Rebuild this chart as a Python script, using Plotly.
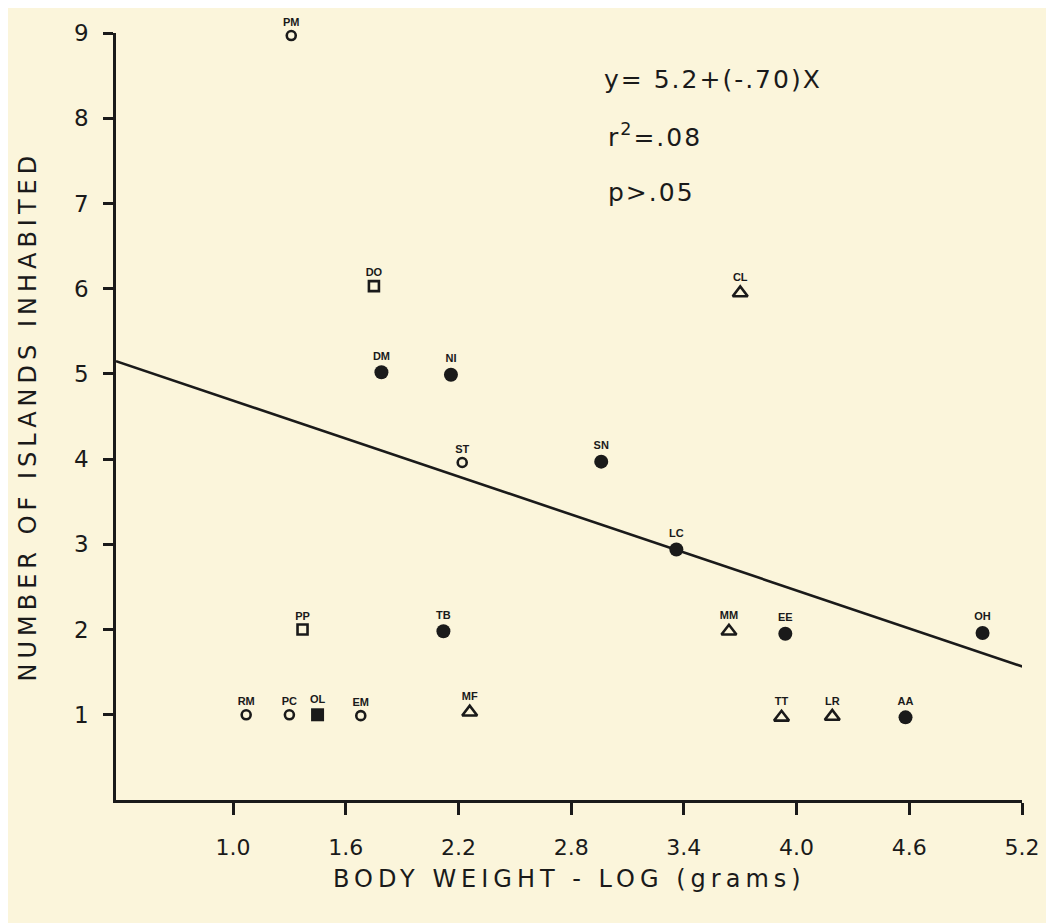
import plotly.graph_objects as go

# ---- data ----
species = ["PM", "DO", "DM", "NI", "ST", "SN", "LC", "CL",
           "PP", "TB", "MM", "EE", "OH",
           "RM", "PC", "OL", "EM", "MF", "TT", "LR", "AA"]
body_weight_log = [1.31, 1.75, 1.79, 2.16, 2.22, 2.96, 3.36, 3.70,
                   1.37, 2.12, 3.64, 3.94, 4.99,
                   1.07, 1.30, 1.45, 1.68, 2.26, 3.92, 4.19, 4.58]
islands = [8.97, 6.03, 5.02, 4.99, 3.96, 3.97, 2.94, 5.95,
           2.0, 1.98, 1.98, 1.95, 1.96,
           1.0, 1.0, 1.0, 0.99, 1.03, 0.97, 0.98, 0.97]
marker_kind = ["open_circle", "open_square", "filled_circle", "filled_circle",
               "open_circle", "filled_circle", "filled_circle", "open_triangle",
               "open_square", "filled_circle", "open_triangle", "filled_circle",
               "filled_circle",
               "open_circle", "open_circle", "filled_square", "open_circle",
               "open_triangle", "open_triangle", "open_triangle", "filled_circle"]

fit_x = [0.377, 5.21]
fit_y = [5.15, 1.56]

x_ticks = [1.0, 1.6, 2.2, 2.8, 3.4, 4.0, 4.6, 5.2]
x_tick_labels = ["1.0", "1.6", "2.2", "2.8", "3.4", "4.0", "4.6", "5.2"]
y_ticks = [1, 2, 3, 4, 5, 6, 7, 8, 9]

equation_lines = ["y= 5.2+(-.70)X", "r<sup>2</sup>=.08", "p>.05"]
x_title = "BODY WEIGHT - LOG (grams)"
y_title = "NUMBER OF ISLANDS INHABITED"

# ---- styling ----
BG = "#FBF5DB"
INK = "#1a1a1a"
FONT = "DejaVu Sans"


def spaced(txt, px):
    return '<span style="letter-spacing:%dpx">%s</span>' % (px, txt)


styles = {
    "open_circle": dict(symbol="circle-open", size=9, line=dict(width=2.6, color=INK)),
    "filled_circle": dict(symbol="circle", size=14, color=INK, line=dict(width=0)),
    "open_square": dict(symbol="square-open", size=10, line=dict(width=2.6, color=INK)),
    "filled_square": dict(symbol="square", size=13, color=INK, line=dict(width=0)),
    "open_triangle": dict(symbol="triangle-up-open", size=13, line=dict(width=2.6, color=INK)),
}

fig = go.Figure()

fig.add_trace(go.Scatter(x=fit_x, y=fit_y, mode="lines",
                         line=dict(color=INK, width=2.6),
                         hoverinfo="skip", showlegend=False))

for kind, st in styles.items():
    idx = [i for i, k in enumerate(marker_kind) if k == kind]
    mk = dict(st)
    if "color" not in mk:
        mk["color"] = INK
    fig.add_trace(go.Scatter(
        x=[body_weight_log[i] for i in idx],
        y=[islands[i] for i in idx],
        text=[species[i] for i in idx],
        mode="markers+text",
        textposition="top center",
        textfont=dict(family="Liberation Sans", size=11, color=INK, weight="bold"),
        marker=mk,
        showlegend=False,
        cliponaxis=False,
    ))

for i, line in enumerate(equation_lines):
    fig.add_annotation(x=0.536, y=1.0, xref="paper", yref="paper",
                       xanchor="left", yanchor="middle",
                       yshift=-46 - 56.5 * i, xshift=(0 if i == 0 else 4),
                       text=spaced(line, 2), showarrow=False,
                       font=dict(family=FONT, size=25, color=INK))

fig.add_annotation(x=0.5, y=-0.103, xref="paper", yref="paper",
                   xanchor="center", yanchor="middle", showarrow=False,
                   text=spaced(x_title, 5), font=dict(family=FONT, size=24, color=INK))
fig.add_annotation(x=-0.0982, y=0.50, xref="paper", yref="paper",
                   xanchor="center", yanchor="middle", showarrow=False,
                   textangle=-90,
                   text=spaced(y_title, 5), font=dict(family=FONT, size=24, color=INK))

fig.update_xaxes(range=[0.377, 5.2], tickvals=x_ticks, ticktext=x_tick_labels,
                 showline=True, linewidth=2.6, linecolor=INK,
                 ticks="outside", ticklen=12, tickwidth=2.6, tickcolor=INK,
                 showgrid=False, zeroline=False,
                 tickfont=dict(family=FONT, size=22, color=INK),
                 ticklabelstandoff=14)
fig.update_yaxes(range=[0, 9.0], tickvals=y_ticks,
                 showline=True, linewidth=2.6, linecolor=INK,
                 ticks="outside", ticklen=10, tickwidth=2.6, tickcolor=INK,
                 showgrid=False, zeroline=False,
                 tickfont=dict(family=FONT, size=23, color=INK),
                 ticklabelstandoff=10)

fig.update_layout(width=1054, height=923,
                  margin=dict(l=108, r=40, t=17, b=131),
                  paper_bgcolor=BG, plot_bgcolor=BG,
                  showlegend=False)

fig.write_html("out.html")
